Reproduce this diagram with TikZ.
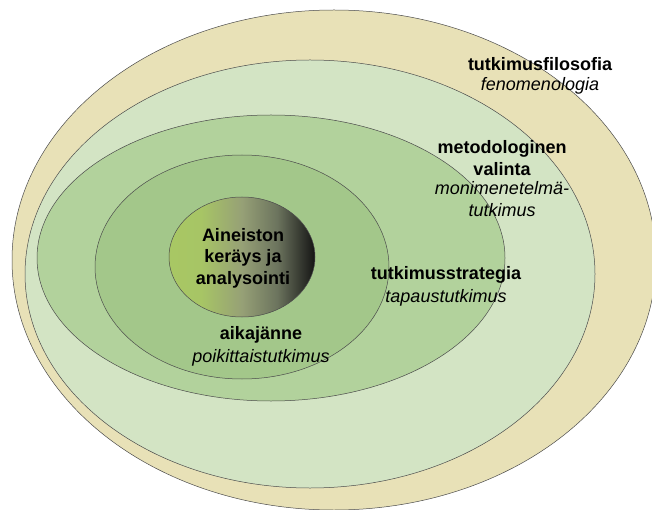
\documentclass[tikz,border=0pt]{standalone}
\usepackage{fontspec}
\setmainfont{Liberation Sans}
\usepackage{tikz}
\usetikzlibrary{positioning}
\definecolor{philotan}{RGB}{232,225,183}
\definecolor{methgreen}{RGB}{211,228,196}
\definecolor{stratgreen}{RGB}{178,210,156}
\definecolor{timegreen}{RGB}{163,199,138}
\definecolor{corelt}{RGB}{168,199,100}
\definecolor{coremid}{RGB}{150,160,118}
\definecolor{coredk}{RGB}{108,116,94}
\pgfdeclarehorizontalshading{coreshade}{100bp}{color(0bp)=(corelt); color(25bp)=(corelt);
  color(36bp)=(corelt!95!coremid); color(50bp)=(coremid); color(62bp)=(coredk);
  color(75bp)=(black!92); color(100bp)=(black)}
\tikzset{
  % Kerrokset
  layer/.style={draw=black!70,line width=0.5pt},
  % Tekstit
  layer title/.style={font=\bfseries\fontsize{18}{21.5}\selectfont,align=center,inner sep=0pt},
  layer sub/.style={font=\itshape\fontsize{18}{21.5}\selectfont,align=center,inner sep=0pt}
}

\begin{document}
\begin{tikzpicture}[x=1pt,y=-1pt]
        \useasboundingbox (0,0) rectangle (652,510);
        % Tutkimusfilosofia
        \draw[layer,fill=philotan] (334,260) ellipse (322pt and 250pt);
        % Metodologinen valinta
        \draw[layer,fill=methgreen] (310,274) ellipse (285pt and 214pt);
        % Tutkimusstrategia
        \draw[layer,fill=stratgreen] (271,258) ellipse (234pt and 143pt);
        % Aikajanne
        \draw[layer,fill=timegreen] (242,267) ellipse (147pt and 112pt);
        % Ydin
        \draw[layer,shading=coreshade] (242,257) ellipse (73pt and 60pt);
        % Nimet
        \node[layer title] (core) at (243,258) {Aineiston\\keräys ja\\analysointi};
        \node[layer title] (philo) at (540,64) {tutkimusfilosofia};
        \node[layer sub,below=6pt of philo] (philosub) {fenomenologia};
        \node[layer title] (meth) at (502,158) {metodologinen\\valinta};
        \node[layer sub,below=6pt of meth] (methsub) {monimenetelmä-\\tutkimus};
        \node[layer title] (strat) at (446,275) {tutkimusstrategia};
        \node[layer sub,below=6pt of strat] (stratsub) {tapaustutkimus};
        \node[layer title] (time) at (261,335) {aikajänne};
        \node[layer sub,below=6pt of time] (timesub) {poikittaistutkimus};
      \end{tikzpicture}
\end{document}
